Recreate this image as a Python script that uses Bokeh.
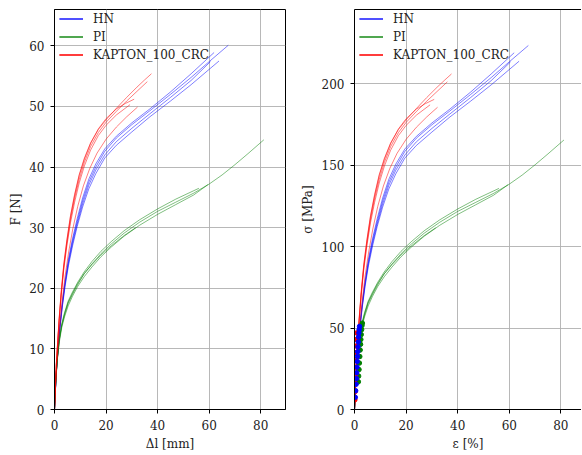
from bokeh.plotting import figure
from bokeh.models import Range1d, FixedTicker, LinearAxis
from bokeh.layouts import row
from bokeh.embed import file_html
from bokeh.resources import INLINE

FONT = "DejaVu Serif"
TEXT_COLOR = "#222222"

# ---------------- data (elongation dl [mm], force F [N]) ----------------
SERIES_NAMES = ["HN", "PI", "KAPTON_100_CRC"]
SERIES_COLORS = ["blue", "green", "red"]

# HN specimens
HN1_DL = [0, 0.35, 0.8, 1.4, 2.1, 3.0, 4.1, 5.4, 7.0, 8.8, 10.9, 13.3, 16, 19.5, 24, 30, 37, 45, 53, 60, 67.4]
HN1_F = [0, 3.2, 6.8, 10.2, 13.7, 17.3, 20.9, 24.4, 27.8, 31.0, 34.4, 37.5, 40.0, 42.6, 44.8, 47.0, 49.3, 52.0, 54.8, 57.4, 60.1]
HN2_DL = [0, 0.35, 0.8, 1.4, 2.1, 3.0, 4.1, 5.4, 7.0, 8.8, 10.9, 13.3, 16, 19.5, 24, 30, 37, 45, 53, 61.9]
HN2_F = [0, 3.3, 7.0, 10.4, 14.0, 17.6, 21.2, 24.8, 28.2, 31.5, 34.9, 38.0, 40.5, 43.0, 45.1, 47.3, 49.6, 52.4, 55.4, 58.9]
HN3_DL = [0, 0.35, 0.8, 1.4, 2.1, 3.0, 4.1, 5.4, 7.0, 8.8, 10.9, 13.3, 16, 19.5, 24, 30, 37, 45, 53, 63.8]
HN3_F = [0, 3.1, 6.6, 9.9, 13.3, 16.8, 20.3, 23.7, 27.0, 30.2, 33.4, 36.4, 38.9, 41.5, 43.6, 45.8, 48.3, 50.9, 53.6, 57.5]
HN4_DL = [0, 0.35, 0.8, 1.4, 2.1, 3.0, 4.1, 5.4, 7.0, 8.8, 10.9, 13.3, 16, 19.5, 24, 30, 37, 45, 53, 60.5]
HN4_F = [0, 3.2, 6.7, 10.0, 13.5, 17.0, 20.6, 24.1, 27.4, 30.6, 33.9, 37.0, 39.5, 42.0, 44.2, 46.4, 48.8, 51.5, 54.3, 57.4]

# PI specimens
PI1_DL = [0, 0.3, 0.7, 1.2, 1.9, 2.8, 3.9, 5.3, 7.0, 9.0, 11.5, 14.5, 18, 22, 27, 33, 40, 47, 54, 60, 65, 70, 75, 81.2]
PI1_F = [0, 3.0, 6.0, 8.8, 11.5, 13.8, 15.6, 17.5, 19.0, 20.6, 22.4, 24.0, 25.7, 27.3, 29.1, 30.9, 32.7, 34.2, 35.7, 37.2, 38.7, 40.4, 42.2, 44.5]
PI2_DL = [0, 0.3, 0.7, 1.2, 1.9, 2.8, 3.9, 5.3, 7.0, 9.0, 11.5, 14.5, 18, 22, 27, 33, 40, 47, 54, 56.0]
PI2_F = [0, 3.1, 6.2, 9.0, 11.8, 14.1, 16.0, 17.9, 19.4, 21.0, 22.7, 24.4, 26.1, 27.7, 29.5, 31.3, 33.1, 34.7, 36.1, 36.5]
PI3_DL = [0, 0.3, 0.7, 1.2, 1.9, 2.8, 3.9, 5.3, 7.0, 9.0, 11.5, 14.5, 18, 22, 27, 33, 40, 47, 54, 59.5]
PI3_F = [0, 2.9, 5.8, 8.6, 11.2, 13.5, 15.3, 17.1, 18.7, 20.3, 21.9, 23.5, 25.2, 26.8, 28.6, 30.4, 32.2, 33.8, 35.4, 37.1]
PI4_DL = [0, 0.3, 0.7, 1.2, 1.9, 2.8, 3.9, 5.3, 7.0, 9.0, 11.5, 14.5, 18, 22, 27, 31.5]
PI4_F = [0, 3.0, 6.1, 8.9, 11.6, 13.9, 15.8, 17.7, 19.2, 20.8, 22.4, 23.9, 25.5, 27.0, 28.7, 30.0]

# KAPTON_100_CRC specimens
KA1_DL = [0, 0.3, 0.7, 1.2, 1.8, 2.6, 3.6, 4.8, 6.2, 7.8, 9.6, 11.6, 14, 17, 20, 24, 28, 32, 35, 37.6]
KA1_F = [0, 3.5, 7.5, 11.0, 15.0, 19.5, 24.0, 28.0, 32.0, 35.5, 38.8, 41.5, 44.0, 46.2, 47.8, 49.7, 51.5, 53.2, 54.4, 55.4]
KA2_DL = [0, 0.3, 0.7, 1.2, 1.8, 2.6, 3.6, 4.8, 6.2, 7.8, 9.6, 11.6, 14, 17, 20, 24, 28, 32, 36.0]
KA2_F = [0, 3.4, 7.3, 10.8, 14.7, 19.0, 23.4, 27.4, 31.3, 34.8, 38.0, 40.8, 43.4, 45.7, 47.4, 49.2, 50.9, 52.5, 54.1]
KA3_DL = [0, 0.3, 0.7, 1.2, 1.8, 2.6, 3.6, 4.8, 6.2, 7.8, 9.6, 11.6, 14, 17, 20, 24, 27.5, 30.9]
KA3_F = [0, 3.5, 7.4, 11.0, 15.0, 19.3, 23.8, 27.8, 31.8, 35.3, 38.6, 41.3, 43.9, 46.3, 48.0, 49.6, 50.5, 51.2]
KA4_DL = [0, 0.3, 0.7, 1.2, 1.8, 2.6, 3.6, 4.8, 6.2, 7.8, 9.6, 11.6, 14, 17, 20, 24, 29.3]
KA4_F = [0, 3.4, 7.2, 10.7, 14.5, 18.8, 23.1, 27.0, 30.8, 34.2, 37.4, 40.2, 42.8, 45.2, 46.9, 48.6, 50.3]
KA5_DL = [0, 0.35, 0.8, 1.4, 2.1, 3.0, 4.1, 5.5, 7.1, 9.0, 11.2, 13.7, 16.5, 20, 24, 28, 32.2]
KA5_F = [0, 3.2, 6.8, 10.2, 13.9, 18.0, 22.0, 26.0, 29.8, 33.5, 36.9, 39.8, 42.3, 44.6, 46.6, 48.3, 49.9]

# conversion: 60.1 N <-> 223.5 MPa, 67.4 mm <-> 67.4 %
SPECIMEN_AREA_MM2 = 0.269
GAUGE_LENGTH_MM = 100.0

# points marked on the stress-strain panel (strain [%], stress [MPa])
KA_DOT_EPS = [0.15, 0.2, 0.3, 0.35, 0.45, 0.5, 0.6, 0.65, 0.75, 0.85]
KA_DOT_SIG = [6, 11, 16, 21, 26, 30, 35, 39, 43, 47]
HN_DOT_EPS = [0.3, 0.45, 0.6, 0.75, 0.85, 0.95, 1.05, 1.15, 1.25, 1.35, 1.45, 1.55, 1.7, 1.8, 1.95]
HN_DOT_SIG = [7.5, 11.5, 15.5, 19, 22.5, 26, 29.5, 32.5, 35.5, 38.5, 41.5, 44.5, 47, 49, 51]
PI_DOT_EPS = [1.5, 1.6, 1.75, 1.9, 2.05, 2.2, 2.35, 2.45, 2.6, 2.75, 2.9, 3.05]
PI_DOT_SIG = [17, 20.5, 24.5, 28.5, 32.5, 36.5, 40, 43, 46, 49, 51.5, 53]

X_TICKS = [0, 20, 40, 60, 80]
F_TICKS = [0, 10, 20, 30, 40, 50, 60]
SIG_TICKS = [0, 50, 100, 150, 200]

CURVES = {
    "HN": [(HN1_DL, HN1_F), (HN2_DL, HN2_F), (HN3_DL, HN3_F), (HN4_DL, HN4_F)],
    "PI": [(PI1_DL, PI1_F), (PI2_DL, PI2_F), (PI3_DL, PI3_F), (PI4_DL, PI4_F)],
    "KAPTON_100_CRC": [(KA1_DL, KA1_F), (KA2_DL, KA2_F), (KA3_DL, KA3_F), (KA4_DL, KA4_F), (KA5_DL, KA5_F)],
}
DOTS = [("green", PI_DOT_EPS, PI_DOT_SIG), ("red", KA_DOT_EPS, KA_DOT_SIG), ("blue", HN_DOT_EPS, HN_DOT_SIG)]


def style(p, xlabel, ylabel, yticks, ylabel_standoff):
    for ax in (p.xaxis[0], p.yaxis[0]):
        ax.axis_line_color = "black"
        ax.axis_line_width = 1
        ax.major_tick_line_color = "black"
        ax.major_tick_out = 4
        ax.major_tick_in = 0
        ax.minor_tick_line_color = None
        ax.major_label_text_font = FONT
        ax.major_label_text_font_size = "12px"
        ax.major_label_text_color = TEXT_COLOR
        ax.axis_label_text_font = FONT
        ax.axis_label_text_font_size = "12px"
        ax.axis_label_text_font_style = "normal"
        ax.axis_label_text_color = TEXT_COLOR
    p.xaxis[0].ticker = FixedTicker(ticks=X_TICKS)
    p.yaxis[0].ticker = FixedTicker(ticks=yticks)
    p.xaxis[0].axis_label = xlabel
    p.yaxis[0].axis_label = ylabel
    p.xaxis[0].major_label_standoff = 6
    p.xaxis[0].axis_label_standoff = 4
    p.yaxis[0].major_label_standoff = 6
    p.yaxis[0].axis_label_standoff = ylabel_standoff
    p.xgrid.ticker = FixedTicker(ticks=X_TICKS)
    p.ygrid.ticker = FixedTicker(ticks=yticks)
    for g in (p.xgrid, p.ygrid):
        g.grid_line_color = "#b0b0b0"
        g.grid_line_width = 1
        g.grid_line_alpha = 0.9


def draw_curves(p, to_stress):
    for name, color in zip(SERIES_NAMES, SERIES_COLORS):
        for dl, f in CURVES[name]:
            if to_stress:
                xs = [d / GAUGE_LENGTH_MM * 100.0 for d in dl]
                ys = [v / SPECIMEN_AREA_MM2 for v in f]
            else:
                xs, ys = dl, f
            p.line(xs, ys, line_color=color, line_alpha=0.5, line_width=1, legend_label=name)


def style_legend(p):
    lg = p.legend[0]
    lg.location = (5, 346)
    lg.margin = 0
    lg.padding = 0
    lg.spacing = 1
    lg.glyph_width = 24
    lg.glyph_height = 17
    lg.label_height = 17
    lg.label_standoff = 10
    lg.label_text_font = FONT
    lg.label_text_font_size = "12px"
    lg.label_text_color = TEXT_COLOR
    lg.background_fill_alpha = 0
    lg.border_line_color = None


# ---------------- left panel: force vs elongation ----------------
p1 = figure(frame_width=231, frame_height=400, output_backend="svg", toolbar_location=None,
            x_range=Range1d(0, 89.6), y_range=Range1d(0, 66),
            min_border_left=54, min_border_right=11, min_border_top=9, min_border_bottom=0)
p1.outline_line_color = "black"
p1.outline_line_width = 1
style(p1, "Δl [mm]", "F [N]", F_TICKS, 3)
draw_curves(p1, False)
style_legend(p1)

# ---------------- right panel: stress vs strain (frame runs past the page edge) ----------------
p2 = figure(frame_width=227, frame_height=400, output_backend="svg", toolbar_location=None,
            x_range=Range1d(0, 88.0), y_range=Range1d(0, 245.5),
            min_border_left=58, min_border_right=0, min_border_top=9, min_border_bottom=0)
p2.outline_line_color = None
style(p2, "ε [%]", "σ [MPa]", SIG_TICKS, 4)
top = LinearAxis(ticker=FixedTicker(ticks=[]), major_label_text_font_size="0px",
                 major_tick_out=0, major_tick_in=0, minor_tick_out=0, minor_tick_in=0,
                 major_label_standoff=0, axis_line_color="black", axis_line_width=1)
p2.add_layout(top, "above")
draw_curves(p2, True)
for color, eps, sig in DOTS:
    p2.scatter(eps, sig, size=4.5, marker="circle", fill_color=color, line_color=color)
style_legend(p2)

layout = row(p1, p2)
open("out.html", "w").write(file_html(layout, INLINE))
